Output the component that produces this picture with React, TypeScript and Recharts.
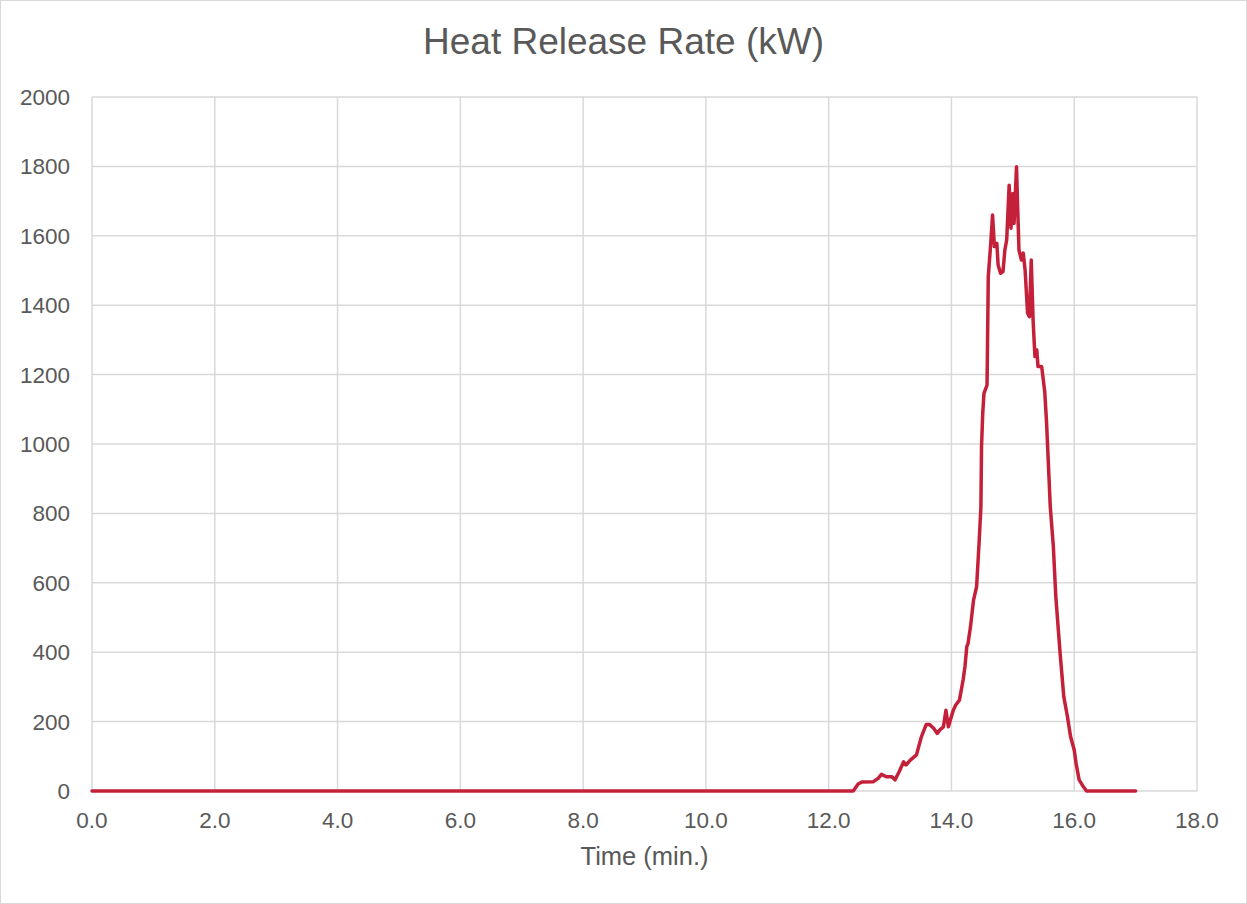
import { LineChart, Line, XAxis, YAxis, CartesianGrid } from 'recharts'

const font = '"Liberation Sans", Arial, sans-serif'
const textColor = '#595959'
const gridColor = '#d9d9d9'

// time in minutes, heat release rate in kW
const time = [
  0, 12.4, 12.48, 12.54, 12.73, 12.81, 12.86, 12.94, 13.03, 13.08, 13.15, 13.22, 13.26, 13.33,
  13.43, 13.51, 13.59, 13.64, 13.71, 13.77, 13.81, 13.87, 13.91, 13.95, 14.03, 14.07, 14.13,
  14.19, 14.22, 14.25, 14.27, 14.31, 14.36, 14.41, 14.45, 14.48, 14.49, 14.51, 14.53, 14.56,
  14.58, 14.6, 14.64, 14.67, 14.7, 14.74, 14.76, 14.8, 14.84, 14.87, 14.9, 14.94, 14.97, 15.0,
  15.02, 15.06, 15.08, 15.1, 15.14, 15.17, 15.2, 15.24, 15.27, 15.3, 15.33, 15.36, 15.39, 15.41,
  15.47, 15.52, 15.55, 15.61, 15.66, 15.7, 15.77, 15.83, 15.89, 15.94, 16.0, 16.03, 16.08,
  16.15, 16.2, 17.0,
]
const hrr = [
  0, 0, 20, 26, 27, 37, 48, 41, 41, 32, 56, 84, 75, 89,
  104, 156, 192, 192, 181, 166, 176, 185, 233, 185, 233, 248, 262,
  320, 358, 416, 425, 473, 550, 589, 714, 819, 992, 1090, 1146, 1160,
  1170, 1482, 1578, 1660, 1569, 1578, 1516, 1492, 1497, 1559, 1588, 1746, 1622, 1722,
  1636, 1799, 1674, 1559, 1530, 1550, 1501, 1377, 1367, 1530, 1357, 1252, 1271, 1223,
  1223, 1150, 1060, 819, 704, 560, 397, 272, 214, 157, 118, 80, 32,
  12, 0, 0,
]
const xTicks = [0, 2, 4, 6, 8, 10, 12, 14, 16, 18]
const yTicks = [0, 200, 400, 600, 800, 1000, 1200, 1400, 1600, 1800, 2000]

const data = time.map((t, i) => ({ t, hrr: hrr[i] }))

export default function App() {
  return (
    <div style={{ position: 'absolute', left: 0, top: 0, width: 1247, height: 904, background: '#fff' }}>
      <div
        style={{
          position: 'absolute', left: 0, top: 23, width: 1247, textAlign: 'center',
          fontFamily: font, fontSize: 37, lineHeight: '37px', color: textColor,
        }}
      >
        Heat Release Rate (kW)
      </div>
      <LineChart width={1247} height={904} data={data} margin={{ top: 97, right: 50, bottom: 0, left: 0 }}>
        <CartesianGrid stroke={gridColor} strokeWidth={1.5} />
        <XAxis
          type="number"
          dataKey="t"
          domain={[0, 18]}
          ticks={xTicks}
          tickFormatter={(v: number) => v.toFixed(1)}
          height={113}
          axisLine={false}
          tickLine={false}
          tickSize={0}
          tickMargin={21}
          tick={{ fill: textColor, fontSize: 22.5, fontFamily: font }}
          label={{ value: 'Time (min.)', position: 'insideBottom', offset: 39, fill: textColor, fontSize: 25.5, fontFamily: font }}
        />
        <YAxis
          domain={[0, 2000]}
          ticks={yTicks}
          width={92}
          axisLine={false}
          tickLine={false}
          tickSize={0}
          tickMargin={22}
          tick={{ fill: textColor, fontSize: 22.5, fontFamily: font }}
        />
        <Line
          type="linear"
          dataKey="hrr"
          stroke="#c5203a"
          strokeWidth={3.5}
          dot={false}
          strokeLinejoin="round"
          strokeLinecap="round"
          isAnimationActive={false}
        />
      </LineChart>
      <div
        style={{
          position: 'absolute', left: 0, top: 0, width: 1247, height: 904,
          boxSizing: 'border-box', border: `1px solid ${gridColor}`, pointerEvents: 'none',
        }}
      />
    </div>
  )
}
